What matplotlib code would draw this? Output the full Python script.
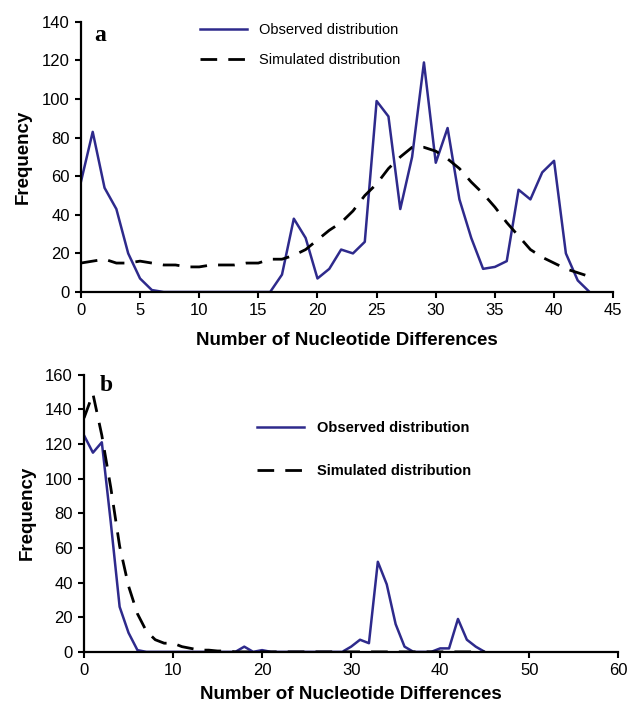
import matplotlib
matplotlib.use("Agg")
import matplotlib.pyplot as plt
import numpy as np

# Panel a data
xa = list(range(0, 44))
obs_a = [57, 83, 54, 43, 20, 7, 1, 0, 0, 0, 0, 0, 0, 0, 0, 0, 0, 9, 38, 28,
         7, 12, 22, 20, 26, 99, 91, 43, 70, 119, 67, 85, 48, 28, 12, 13, 16, 53,
         48, 62, 68, 20, 6, 0]
sim_a = [15, 16, 17, 15, 15, 16, 15, 14, 14, 13, 13, 14, 14, 14, 15, 15, 17, 17,
         19, 22, 27, 32, 36, 42, 50, 56, 64, 70, 75, 75, 73, 69, 64, 57, 51, 44,
         36, 29, 22, 18, 15, 12, 10, 8]

# Panel b data
xb = list(range(0, 46))
obs_b = [125, 115, 121, 75, 26, 11, 1, 0, 0, 0, 0, 0, 0, 0, 0, 0, 0, 0, 3, 0,
         1, 0, 0, 0, 0, 0, 0, 0, 0, 0, 3, 7, 5, 52, 39, 16, 3, 0, 0, 0,
         2, 2, 19, 7, 3, 0]
sim_b = [135, 149, 125, 95, 61, 38, 22, 12, 7, 5, 5, 3, 2, 1, 1, 0.5, 0.5, 0, 0, 0,
         0, 0, 0, 0, 0, 0, 0, 0, 0, 0, 0, 0, 0, 0, 0, 0, 0, 0, 0, 0,
         0, 0, 0, 0, 0, 0]

BLUE = "#2E2A8C"
SANS = ["Liberation Sans", "DejaVu Sans"]
SERIF = ["Liberation Serif", "DejaVu Serif"]

plt.rcParams['font.family'] = SANS

fig = plt.figure(figsize=(6.27, 7.07), dpi=100)

def style(ax):
    for s in ['top', 'right']:
        ax.spines[s].set_visible(False)
    for s in ['left', 'bottom']:
        ax.spines[s].set_linewidth(1.6)
        ax.spines[s].set_color('black')
    ax.tick_params(axis='both', direction='out', length=4, width=1.5,
                   labelsize=12, colors='black', pad=4)

# Panel a
axa = fig.add_axes([0.129, 0.587, 0.849, 0.382])
axa.plot(xa, obs_a, color=BLUE, lw=1.8, label="Observed distribution")
axa.plot(xa, sim_a, color='black', lw=2.0, dashes=(6, 4), label="Simulated distribution")
axa.set_xlim(0, 45)
axa.set_ylim(0, 140)
axa.set_xticks(range(0, 46, 5))
axa.set_yticks(range(0, 141, 20))
style(axa)
axa.set_xlabel("Number of Nucleotide Differences", fontsize=13.5, fontweight='bold', labelpad=10)
axa.set_ylabel("Frequency", fontsize=13.5, fontweight='bold', labelpad=7)
axa.text(0.025, 0.99, "a", transform=axa.transAxes, fontsize=17, fontweight='bold',
         family=SERIF, va='top', ha='left')
axa.legend(loc='upper left', bbox_to_anchor=(0.2, 1.045), frameon=False, fontsize=10.5,
           handlelength=3.2, labelspacing=1.1, handletextpad=0.8)

# Panel b
axb = fig.add_axes([0.134, 0.078, 0.852, 0.392])
axb.plot(xb, obs_b, color=BLUE, lw=1.8, label="Observed distribution")
axb.plot(xb, sim_b, color='black', lw=2.0, dashes=(6, 4), label="Simulated distribution")
axb.set_xlim(0, 60)
axb.set_ylim(0, 160)
axb.set_xticks(range(0, 61, 10))
axb.set_yticks(range(0, 161, 20))
style(axb)
axb.set_xlabel("Number of Nucleotide Differences", fontsize=13.5, fontweight='bold', labelpad=6)
axb.set_ylabel("Frequency", fontsize=13.5, fontweight='bold', labelpad=7)
axb.text(0.03, 1.0, "b", transform=axb.transAxes, fontsize=17, fontweight='bold',
         family=SERIF, va='top', ha='left')
leg = axb.legend(loc='upper left', bbox_to_anchor=(0.3, 0.88), frameon=False,
                 handlelength=3.2, labelspacing=2.0, handletextpad=0.9,
                 prop={'weight': 'bold', 'size': 10.5})

fig.savefig("out.png", dpi=100)
